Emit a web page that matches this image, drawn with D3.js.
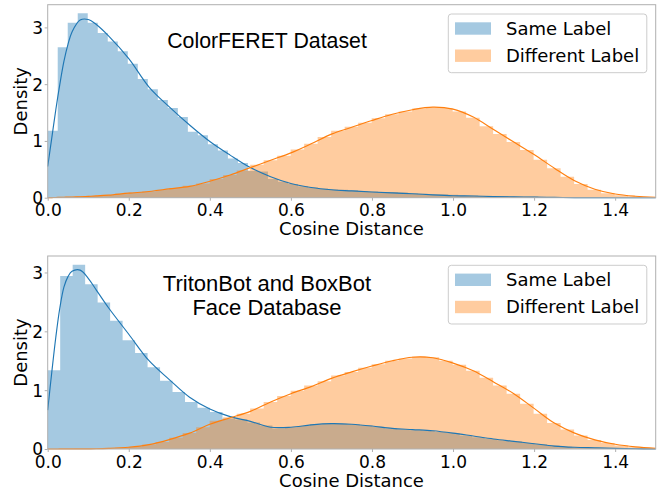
<!DOCTYPE html>
<html>
<head>
<meta charset="utf-8">
<script src="https://cdn.jsdelivr.net/npm/d3@7"></script>
<style>
body { margin: 0; background: #fff; }
text { font-family: "DejaVu Sans", sans-serif; fill: #000; }
.title { font-family: "Liberation Sans", Arial, sans-serif; }
</style>
</head>
<body>
<svg id="chart" width="662" height="493"></svg>
<script>
// ---- data ----
const xTicks = [0.0, 0.2, 0.4, 0.6, 0.8, 1.0, 1.2, 1.4];
const yTicks = [0, 1, 2, 3];
const seriesNames = ["Same Label", "Different Label"];

// shared x grid for the kde curves
const kdeGrid = [0, 0.01, 0.02, 0.03, 0.04, 0.05, 0.06, 0.08, 0.1, 0.12, 0.15, 0.2, 0.25, 0.3, 0.35, 0.4, 0.45, 0.5,
  0.55, 0.6, 0.65, 0.7, 0.75, 0.8, 0.85, 0.9, 0.95, 1.0, 1.05, 1.1, 1.15, 1.2, 1.25, 1.3, 1.35, 1.4, 1.45, 1.5];

// ColorFERET
const feretSameBinWidth = 0.0247;
const feretSameHist = [1.18, 2.65, 3.08, 3.25, 3.08, 2.90, 2.75, 2.58, 2.36, 2.09, 1.91, 1.72, 1.58, 1.42, 1.16, 1.10,
  0.94, 0.83, 0.69, 0.61, 0.47, 0.46, 0.33, 0.28, 0.24, 0.20, 0.18, 0.16, 0.15, 0.14, 0.13, 0.12, 0.11, 0.10, 0.10,
  0.09, 0.08, 0.07, 0.06, 0.06, 0.05, 0.04, 0.04, 0.03, 0.03, 0.03, 0.02, 0.02, 0.02, 0.01, 0.01, 0.01, 0.01];
const feretDiffBinWidth = 0.0333;
const feretDiffHist = [0.005, 0.012, 0.02, 0.03, 0.045, 0.07, 0.09, 0.11, 0.14, 0.17, 0.21, 0.25, 0.33, 0.40, 0.48,
  0.58, 0.66, 0.74, 0.85, 0.95, 1.07, 1.18, 1.25, 1.32, 1.40, 1.47, 1.52, 1.57, 1.59, 1.58, 1.52, 1.41, 1.26, 1.12,
  0.98, 0.84, 0.67, 0.52, 0.37, 0.24, 0.14, 0.08, 0.045, 0.02, 0.01];
const feretSameKde = [0.55, 1.05, 1.55, 2.0, 2.4, 2.7, 2.92, 3.13, 3.14, 3.05, 2.85, 2.45, 1.95, 1.6, 1.28, 0.99, 0.75,
  0.53, 0.37, 0.25, 0.18, 0.14, 0.12, 0.10, 0.085, 0.07, 0.05, 0.035, 0.03, 0.02, 0.015, 0.01, 0.005, 0.002, 0.001,
  0, 0, 0];
const feretDiffKde = [0, 0.002, 0.004, 0.006, 0.008, 0.01, 0.012, 0.017, 0.024, 0.031, 0.045, 0.08, 0.11, 0.155, 0.2,
  0.29, 0.40, 0.53, 0.66, 0.79, 0.95, 1.12, 1.24, 1.36, 1.47, 1.55, 1.595, 1.56, 1.42, 1.2, 0.98, 0.76, 0.52, 0.30,
  0.15, 0.065, 0.025, 0.005];

// TritonBot and BoxBot
const tritonSameBinWidth = 0.0308;
const tritonSameHist = [1.34, 2.94, 3.13, 2.80, 2.49, 2.18, 1.85, 1.63, 1.39, 1.16, 0.97, 0.80, 0.70, 0.63, 0.52,
  0.50, 0.45, 0.40, 0.35, 0.37, 0.39, 0.42, 0.43, 0.43, 0.42, 0.40, 0.38, 0.35, 0.33, 0.32, 0.31, 0.29, 0.27, 0.23,
  0.20, 0.17, 0.15, 0.13, 0.10, 0.08, 0.06, 0.04, 0.03, 0.02, 0.015, 0.01, 0.005];
const tritonDiffBinWidth = 0.0333;
const tritonDiffHist = [0.001, 0.002, 0.003, 0.004, 0.01, 0.02, 0.04, 0.075, 0.12, 0.19, 0.27, 0.37, 0.48, 0.54, 0.6,
  0.69, 0.8, 0.9, 0.99, 1.08, 1.15, 1.25, 1.31, 1.38, 1.44, 1.50, 1.54, 1.57, 1.56, 1.50, 1.43, 1.33, 1.21, 1.08,
  0.94, 0.77, 0.60, 0.44, 0.33, 0.23, 0.155, 0.1, 0.06, 0.03, 0.015];
const tritonSameKde = [0.66, 1.3, 1.9, 2.4, 2.75, 2.93, 3.02, 3.04, 2.9, 2.7, 2.4, 1.95, 1.5, 1.18, 0.88, 0.68, 0.55,
  0.47, 0.37, 0.37, 0.41, 0.43, 0.42, 0.39, 0.35, 0.33, 0.31, 0.27, 0.22, 0.17, 0.13, 0.09, 0.05, 0.03, 0.02, 0.01,
  0.004, 0.001];
const tritonDiffKde = [0, 0, 0, 0.001, 0.001, 0.001, 0.002, 0.002, 0.003, 0.004, 0.01, 0.03, 0.075, 0.16, 0.27, 0.42,
  0.53, 0.64, 0.8, 0.94, 1.06, 1.2, 1.31, 1.41, 1.5, 1.56, 1.55, 1.46, 1.33, 1.14, 0.94, 0.69, 0.44, 0.27, 0.155,
  0.08, 0.035, 0.01];

const blue = "#1f77b4", orange = "#ff7f0e";

const svg = d3.select("#chart");

function stepData(hist, w) {
  const pts = hist.map((h, i) => [i * w, h]);
  pts.push([hist.length * w, hist[hist.length - 1]]);
  return pts;
}

function drawPanel(p) {
  const x = d3.scaleLinear().domain([0, 1.5]).range([47.7, 655.7]);
  const y = d3.scaleLinear().domain([0, p.yMax]).range([p.bottom, p.top]);
  const g = svg.append("g");

  const area = d3.area().curve(d3.curveStepAfter)
    .x(d => x(d[0])).y0(y(0)).y1(d => y(d[1]));
  const line = d3.line().curve(d3.curveCatmullRom)
    .x((d, i) => x(kdeGrid[i])).y(d => y(d));

  // both histograms, then the kde lines on top
  g.append("path").attr("d", area(stepData(p.sameHist, p.sameW)))
    .attr("fill", blue).attr("fill-opacity", 0.4);
  g.append("path").attr("d", area(stepData(p.diffHist, p.diffW)))
    .attr("fill", orange).attr("fill-opacity", 0.4);
  g.append("path").attr("d", line(p.sameKde))
    .attr("fill", "none").attr("stroke", blue).attr("stroke-width", 1.15);
  g.append("path").attr("d", line(p.diffKde))
    .attr("fill", "none").attr("stroke", orange).attr("stroke-width", 1.15);

  // frame
  g.append("rect").attr("x", x(0)).attr("y", p.top)
    .attr("width", x(1.5) - x(0)).attr("height", p.bottom - p.top)
    .attr("fill", "none").attr("stroke", "#b0b0b0").attr("stroke-width", 1);

  const xa = g.append("g").attr("transform", `translate(0,${p.bottom})`)
    .call(d3.axisBottom(x).tickValues(xTicks).tickSize(3).tickFormat(d3.format(".1f")));
  xa.select(".domain").remove();
  xa.selectAll("line").attr("stroke", "#b0b0b0");
  xa.selectAll("text").attr("y", 18.5).attr("dy", null)
    .style("font-size", "17px").style("font-family", "DejaVu Sans");

  const ya = g.append("g").attr("transform", `translate(${x(0)},0)`)
    .call(d3.axisLeft(y).tickValues(yTicks).tickSize(3).tickFormat(d3.format("d")));
  ya.select(".domain").remove();
  ya.selectAll("line").attr("stroke", "#b0b0b0");
  ya.selectAll("text").attr("x", -4.5).attr("dy", "0.35em")
    .style("font-size", "17px").style("font-family", "DejaVu Sans");

  g.append("text").attr("x", 351.5).attr("y", p.bottom + 37.5)
    .attr("text-anchor", "middle").style("font-size", "18px").text("Cosine Distance");
  g.append("text")
    .attr("transform", `translate(20.5,${(p.top + p.bottom) / 2}) rotate(-90)`)
    .attr("text-anchor", "middle").attr("dy", "0.35em")
    .style("font-size", "18px").text("Density");

  // title
  p.title.forEach((t, i) => {
    g.append("text").attr("class", "title").attr("x", 267)
      .attr("y", p.titleY + i * 24.5).attr("text-anchor", "middle")
      .style("font-size", p.titleSize + "px").text(t);
  });

  // legend
  const lg = g.append("g").attr("transform", `translate(448.3,${p.top + 9.3})`);
  lg.append("rect").attr("width", 198.5).attr("height", 58.7).attr("rx", 3)
    .attr("fill", "#fff").attr("fill-opacity", 0.8).attr("stroke", "#cccccc");
  seriesNames.forEach((n, i) => {
    lg.append("rect").attr("x", 6.7).attr("y", 8.3 + i * 27.2)
      .attr("width", 36).attr("height", 12.4)
      .attr("fill", i === 0 ? blue : orange).attr("fill-opacity", 0.4);
    lg.append("text").attr("x", 57.7).attr("y", 21 + i * 27.2)
      .style("font-size", "18px").text(n);
  });
}

drawPanel({
  top: 4.7, bottom: 197.7, yMax: 3.40,
  sameHist: feretSameHist, sameW: feretSameBinWidth, sameKde: feretSameKde,
  diffHist: feretDiffHist, diffW: feretDiffBinWidth, diffKde: feretDiffKde,
  title: ["ColorFERET Dataset"], titleY: 47.7, titleSize: 21.3
});
drawPanel({
  top: 256, bottom: 449, yMax: 3.28,
  sameHist: tritonSameHist, sameW: tritonSameBinWidth, sameKde: tritonSameKde,
  diffHist: tritonDiffHist, diffW: tritonDiffBinWidth, diffKde: tritonDiffKde,
  title: ["TritonBot and BoxBot", "Face Database"], titleY: 290.5, titleSize: 22
});
</script>
</body>
</html>
